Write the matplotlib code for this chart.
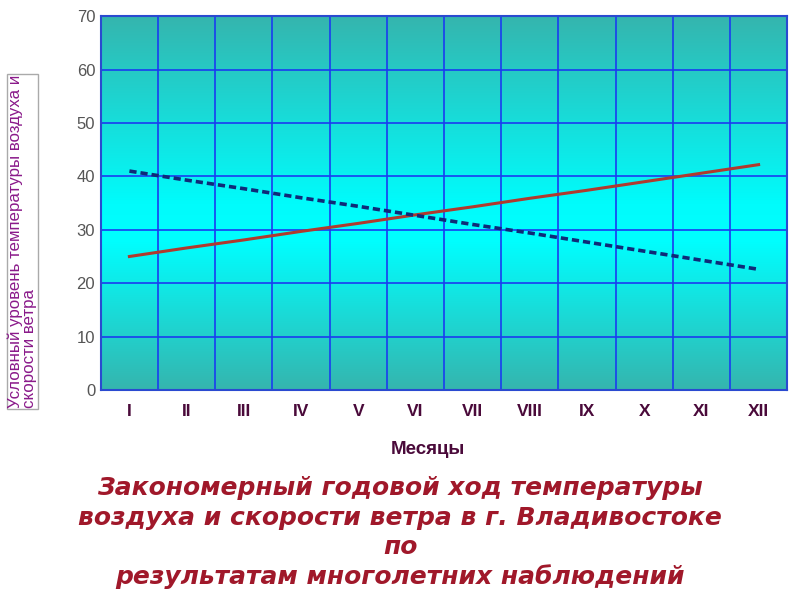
import matplotlib.pyplot as plt
from matplotlib import font_manager
from matplotlib.colors import LinearSegmentedColormap
import numpy as np

# Данные
meses = ['I', 'II', 'III', 'IV', 'V', 'VI', 'VII', 'VIII', 'IX', 'X', 'XI', 'XII']
temperatura = [25.0, 26.6, 28.1, 29.7, 31.2, 32.8, 34.3, 35.9, 37.4, 39.0, 40.6, 42.2]
viento = [41.0, 39.3, 37.7, 36.0, 34.4, 32.7, 31.0, 29.4, 27.7, 26.0, 24.3, 22.6]
y_ticks = [0, 10, 20, 30, 40, 50, 60, 70]

# quitar la variante Narrow para que "Liberation Sans" sea la normal
font_manager.fontManager.ttflist = [f for f in font_manager.fontManager.ttflist
                                    if 'Narrow' not in f.fname]
plt.rcParams['font.family'] = ['Liberation Sans', 'DejaVu Sans']

fig = plt.figure(figsize=(8, 6), dpi=100)
ax = fig.add_axes([0.126, 0.35, 0.858, 0.623])

x = np.arange(len(meses))
ax.set_xlim(-0.5, len(meses) - 0.5)
ax.set_ylim(0, 70)

# Fondo con degradado
cmap = LinearSegmentedColormap.from_list('fondo', [(0, '#35b5ae'), (0.5, '#00fcfc'),
                                                    (0.6, '#00ffff'), (1, '#35b5ae')])
grad = np.linspace(0, 1, 256).reshape(-1, 1)
ax.imshow(grad, cmap=cmap, aspect='auto', extent=[-0.5, len(meses) - 0.5, 0, 70],
          zorder=0, interpolation='bicubic')

# Rejilla
for xv in np.arange(0.5, len(meses) - 0.5, 1):
    ax.axvline(xv, color='#1a3cf0', lw=1.2, zorder=1)
for yv in y_ticks[1:-1]:
    ax.axhline(yv, color='#1a3cf0', lw=1.2, zorder=1)
for s in ax.spines.values():
    s.set_color('#2a4ad0')
    s.set_linewidth(1.5)

ax.plot(x, temperatura, color='#b03a2e', lw=2.2, zorder=3)
ax.plot(x, viento, color='#0f2a78', lw=2.6, ls=(0, (2, 1.1)), zorder=3)

ax.set_xticks(x)
ax.set_xticklabels(meses, fontsize=12.5, fontweight='bold', color='#4a0a3a')
ax.set_yticks(y_ticks)
ax.set_yticklabels([str(v) for v in y_ticks], fontsize=12, color='#555555')
ax.tick_params(length=0)
ax.tick_params(axis='y', pad=4)
ax.tick_params(axis='x', pad=10)

fig.text(0.535, 0.25, 'Месяцы', ha='center', va='center', fontsize=13.5,
         fontweight='bold', color='#4a0a3a')

# Etiqueta del eje Y en recuadro
fig.text(0.028, 0.598, 'Условный уровень температуры воздуха и\nскорости ветра',
         rotation=90, ha='center', va='center', fontsize=12.2, color='#8a1a8a',
         linespacing=0.95, multialignment='left',
         bbox=dict(boxstyle='square,pad=0.05', fc='white', ec='#aaaaaa', lw=1))

fig.text(0.5, 0.112,
         'Закономерный годовой ход температуры\nвоздуха и скорости ветра в г. Владивостоке\nпо\nрезультатам многолетних наблюдений',
         ha='center', va='center', fontsize=18, fontweight='bold', fontstyle='italic',
         color='#a0182a', linespacing=1.28, family=['DejaVu Sans'])

plt.savefig('out.png', dpi=100)
